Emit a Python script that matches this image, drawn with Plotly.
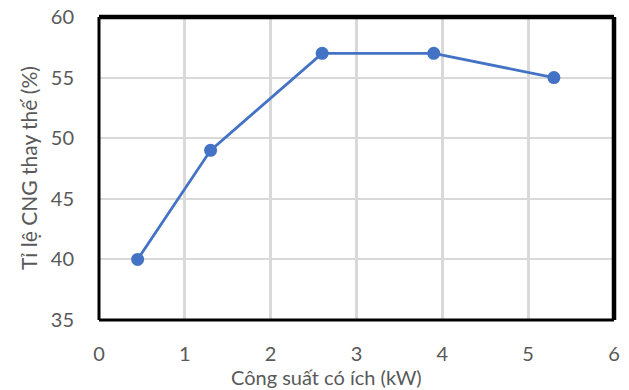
import plotly.graph_objects as go

# Useful power (kW) vs CNG substitution ratio (%)
power_kw = [0.45, 1.3, 2.6, 3.9, 5.3]
cng_ratio = [40, 49, 57, 57, 55]

x_ticks = [0, 1, 2, 3, 4, 5, 6]
y_ticks = [35, 40, 45, 50, 55, 60]

FONT = "Lato, Open Sans, sans-serif"
TEXT_GRAY = "#595959"
GRID = "#d9d9d9"
BLUE = "#4472C4"

fig = go.Figure()
fig.add_trace(go.Scatter(
    x=power_kw, y=cng_ratio, mode="lines+markers",
    line=dict(color=BLUE, width=2.8),
    marker=dict(color=BLUE, size=13),
    showlegend=False,
))

fig.update_layout(
    width=629, height=390,
    margin=dict(l=99, r=15, t=17, b=70, autoexpand=False),
    paper_bgcolor="white", plot_bgcolor="white",
    font=dict(family=FONT, color=TEXT_GRAY, size=20),
    xaxis=dict(
        range=[0, 6], tickvals=x_ticks, showgrid=True, gridcolor=GRID, gridwidth=2.5,
        zeroline=False, showline=False, ticks="", ticklabelstandoff=20,
        automargin=False, tickfont=dict(size=20, color=TEXT_GRAY),
    ),
    yaxis=dict(
        range=[35, 60], tickvals=y_ticks, showgrid=True, gridcolor=GRID, gridwidth=1.5,
        zeroline=False, showline=False, ticks="", ticklabelstandoff=24,
        automargin=False, tickfont=dict(size=20, color=TEXT_GRAY),
    ),
)

# Axis titles
fig.add_annotation(text="Công suất có ích (kW)", xref="paper", yref="paper",
                   x=(326 - 99) / 515, y=-(377 - 320) / 303,
                   xanchor="center", yanchor="middle", showarrow=False,
                   font=dict(size=20, color=TEXT_GRAY))
fig.add_annotation(text="Tỉ lệ CNG thay thế (%)", xref="paper", yref="paper",
                   x=-(99 - 28) / 515, y=(320 - 168) / 303, textangle=-90,
                   xanchor="center", yanchor="middle", showarrow=False,
                   font=dict(size=21, color=TEXT_GRAY))

# Plot-area frame: thin left/bottom, heavier top/right
frame = [
    dict(x0=0, x1=0, y0=0, y1=1, w=3),
    dict(x0=0, x1=1, y0=0, y1=0, w=3),
    dict(x0=0, x1=1, y0=1, y1=1, w=4.5),
    dict(x0=1, x1=1, y0=0, y1=1, w=4.5),
]
for f in frame:
    fig.add_shape(type="line", xref="x domain", yref="y domain",
                  x0=f["x0"], x1=f["x1"], y0=f["y0"], y1=f["y1"],
                  line=dict(color="black", width=f["w"]), layer="above")

fig.write_html("out.html")
